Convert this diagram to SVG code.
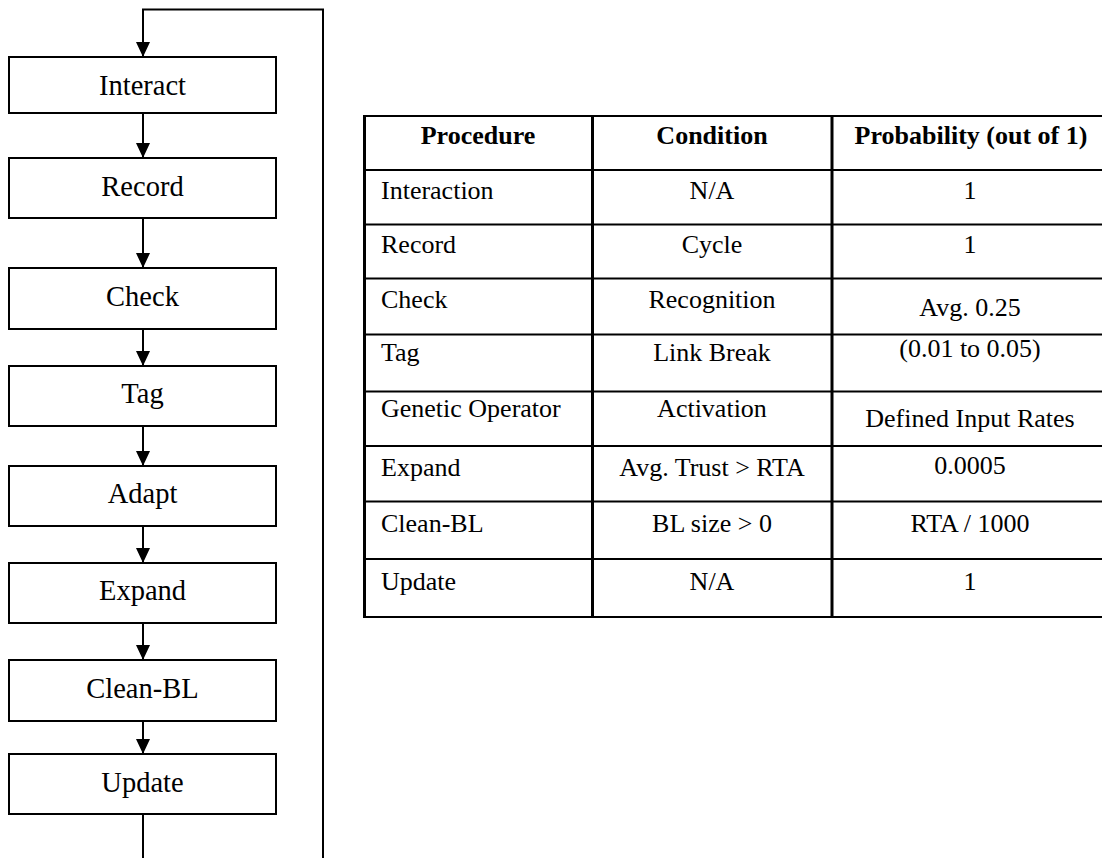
<svg xmlns="http://www.w3.org/2000/svg" width="1102" height="858" viewBox="0 0 1102 858">
<style>
.box{fill:#fff;stroke:#000;stroke-width:2}
.lbl{font-family:"Liberation Serif","Times New Roman",serif;font-size:28.5px;fill:#000;text-anchor:middle}
.conn{fill:none;stroke:#000;stroke-width:2}
.hl{stroke:#000;stroke-width:2}
.vl{stroke:#000;stroke-width:3}
.td{font-family:"Liberation Serif","Times New Roman",serif;font-size:26px;fill:#000}
.c{text-anchor:middle}
.b{font-weight:bold}
</style>
<defs>
<marker id="ah" markerUnits="userSpaceOnUse" markerWidth="15" markerHeight="14" refX="15" refY="7" orient="auto">
<path d="M0,0 L15,7 L0,14 z" fill="#000"/>
</marker>
</defs>
<rect width="1102" height="858" fill="#fff"/>
<g id="connectors">
<path class="conn" d="M143,113 V158" marker-end="url(#ah)"/>
<path class="conn" d="M143,218 V268" marker-end="url(#ah)"/>
<path class="conn" d="M143,329 V366" marker-end="url(#ah)"/>
<path class="conn" d="M143,426 V466" marker-end="url(#ah)"/>
<path class="conn" d="M143,526 V563" marker-end="url(#ah)"/>
<path class="conn" d="M143,623 V660" marker-end="url(#ah)"/>
<path class="conn" d="M143,721 V754" marker-end="url(#ah)"/>
<path class="conn" d="M143,814 V880 H323 V9.5 H143 V57" marker-end="url(#ah)"/>
</g>
<g id="interact"><rect class="box" x="9" y="57" width="267" height="56"/><text class="lbl" x="142.5" y="95">Interact</text></g>
<g id="record"><rect class="box" x="9" y="158" width="267" height="60"/><text class="lbl" x="142.5" y="196">Record</text></g>
<g id="check"><rect class="box" x="9" y="268" width="267" height="61"/><text class="lbl" x="142.5" y="306">Check</text></g>
<g id="tag"><rect class="box" x="9" y="366" width="267" height="60"/><text class="lbl" x="142.5" y="403">Tag</text></g>
<g id="adapt"><rect class="box" x="9" y="466" width="267" height="60"/><text class="lbl" x="142.5" y="503">Adapt</text></g>
<g id="expand"><rect class="box" x="9" y="563" width="267" height="60"/><text class="lbl" x="142.5" y="600">Expand</text></g>
<g id="cleanbl"><rect class="box" x="9" y="660" width="267" height="61"/><text class="lbl" x="142.5" y="698">Clean-BL</text></g>
<g id="update"><rect class="box" x="9" y="754" width="267" height="60"/><text class="lbl" x="142.5" y="792">Update</text></g>
<g id="table">
<line class="hl" x1="364" y1="116" x2="1110" y2="116"/>
<line class="hl" x1="364" y1="170" x2="1110" y2="170"/>
<line class="hl" x1="364" y1="224.5" x2="1110" y2="224.5"/>
<line class="hl" x1="364" y1="278.5" x2="1110" y2="278.5"/>
<line class="hl" x1="364" y1="334.5" x2="1110" y2="334.5"/>
<line class="hl" x1="364" y1="391.5" x2="1110" y2="391.5"/>
<line class="hl" x1="364" y1="446" x2="1110" y2="446"/>
<line class="hl" x1="364" y1="501.5" x2="1110" y2="501.5"/>
<line class="hl" x1="364" y1="559" x2="1110" y2="559"/>
<line class="hl" x1="364" y1="617" x2="1110" y2="617"/>
<line class="vl" x1="364.5" y1="115" x2="364.5" y2="618"/>
<line class="vl" x1="592.5" y1="115" x2="592.5" y2="618"/>
<line class="vl" x1="832" y1="115" x2="832" y2="618"/>
<text class="td b c" x="478" y="144">Procedure</text>
<text class="td b c" x="712" y="144">Condition</text>
<text class="td b c" x="971" y="144">Probability (out of 1)</text>
<text class="td" x="381" y="199">Interaction</text>
<text class="td c" x="712" y="199">N/A</text>
<text class="td c" x="970" y="199">1</text>
<text class="td" x="381" y="253">Record</text>
<text class="td c" x="712" y="253">Cycle</text>
<text class="td c" x="970" y="253">1</text>
<text class="td" x="381" y="308">Check</text>
<text class="td c" x="712" y="308">Recognition</text>
<text class="td c" x="970" y="316">Avg. 0.25</text>
<text class="td" x="381" y="361">Tag</text>
<text class="td c" x="712" y="361">Link Break</text>
<text class="td c" x="970" y="357">(0.01 to 0.05)</text>
<text class="td" x="381" y="417">Genetic Operator</text>
<text class="td c" x="712" y="417">Activation</text>
<text class="td c" x="970" y="427">Defined Input Rates</text>
<text class="td" x="381" y="476">Expand</text>
<text class="td c" x="712" y="476">Avg. Trust &gt; RTA</text>
<text class="td c" x="970" y="474">0.0005</text>
<text class="td" x="381" y="532">Clean-BL</text>
<text class="td c" x="712" y="532">BL size &gt; 0</text>
<text class="td c" x="970" y="532">RTA / 1000</text>
<text class="td" x="381" y="590">Update</text>
<text class="td c" x="712" y="590">N/A</text>
<text class="td c" x="970" y="590">1</text>
</g>
</svg>
